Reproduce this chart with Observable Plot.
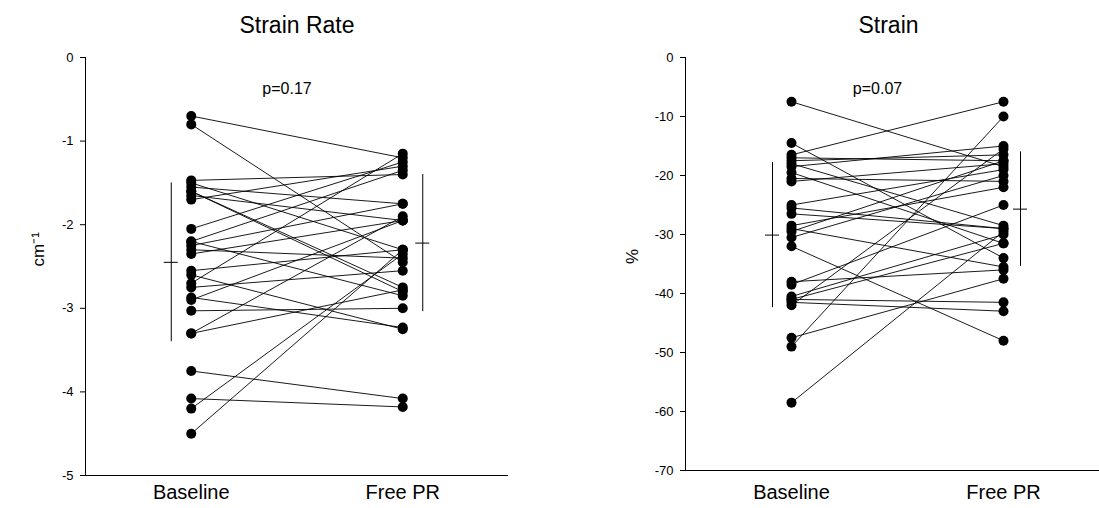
<!DOCTYPE html>
<html><head><meta charset="utf-8">
<script src="https://cdn.jsdelivr.net/npm/d3@7"></script>
<script src="https://cdn.jsdelivr.net/npm/@observablehq/plot@0.6"></script>
<style>
body{margin:0;background:#fff;}
#wrap{display:flex;width:1099px;height:508px;overflow:hidden;background:#fff;}
#wrap svg{flex-shrink:0;display:block;}
</style></head><body><div id="wrap"></div>
<script>
const groups = ["Baseline", "Free PR"];

// Strain Rate (cm^-1), paired per patient
const rateBaseline = [-0.70,-0.80,-1.47,-1.50,-1.55,-1.60,-1.65,-1.70,-2.05,-2.20,-2.25,-2.30,-2.35,-2.55,-2.60,-2.70,-2.75,-2.87,-2.90,-3.03,-3.30,-3.75,-4.08,-4.20,-4.50,-1.60,-2.20,-3.30];
const rateFree     = [-1.20,-2.45,-1.40,-2.30,-1.75,-2.80,-1.95,-1.30,-1.25,-1.35,-1.75,-2.40,-1.95,-2.30,-3.25,-1.15,-2.55,-3.23,-1.95,-3.00,-1.90,-4.08,-4.18,-2.35,-2.30,-2.75,-2.85,-2.78];
const rateMean = [-2.45, -2.22];
const rateSD   = [0.95, 0.82];
const rateTicks = [0, -1, -2, -3, -4, -5];

// Strain (%), paired per patient
const strainBaseline = [-7.5,-14.5,-16.5,-17,-17.5,-18,-18.5,-19.5,-20.5,-21,-25,-25.5,-26.5,-28.5,-29,-29.5,-30.5,-32,-38,-38.5,-40.5,-41,-41.5,-42,-47.5,-49,-58.5,-41];
const strainFree     = [-18.5,-34,-7.5,-17.5,-16.5,-28.5,-15,-31.5,-21,-18,-19,-29,-29,-22,-35.5,-17.5,-20,-48,-36,-25,-30,-41.5,-43,-15.5,-37.5,-10,-29.5,-31.5];
const strainMean = [-30.1, -25.7];
const strainSD   = [12.3, 9.7];
const strainTicks = [0, -10, -20, -30, -40, -50, -60, -70];

const FONT = "'Liberation Sans', Arial, Helvetica, sans-serif";

function panel(o) {
  const pairs = o.base.map((b, i) => ({id: i, b, f: o.free[i]}));
  const points = pairs.flatMap(p => [{id: p.id, g: 0, v: p.b}, {id: p.id, g: 1, v: p.f}]);
  const summ = groups.map((g, i) => ({g: i, m: o.mean[i], lo: o.mean[i] - o.sd[i], hi: o.mean[i] + o.sd[i]}));
  const xDomain = [-0.5, groups.length - 0.5];
  const yDomain = [d3.min(o.ticks), d3.max(o.ticks)];
  return Plot.plot({
    width: o.width, height: 508,
    marginTop: 57, marginLeft: o.marginLeft, marginRight: o.marginRight, marginBottom: o.marginBottom,
    style: {fontFamily: FONT, fontSize: "13px", background: "white", color: "black"},
    x: {domain: xDomain, axis: null},
    y: {domain: yDomain, ticks: o.ticks, tickSize: 5, tickPadding: 7, tickFormat: d => String(d), label: null},
    marks: [
      Plot.ruleX([xDomain[0]], {stroke: "black", strokeWidth: 1}),
      Plot.ruleY([yDomain[0]], {stroke: "black", strokeWidth: 1}),
      Plot.line(points, {x: "g", y: "v", z: "id", stroke: "black", strokeWidth: 0.9}),
      Plot.dot(points, {x: "g", y: "v", r: 5, fill: "black", stroke: "none"}),
      Plot.ruleX([summ[0]], {x: "g", y1: "lo", y2: "hi", dx: -o.sdOffset[0], stroke: "black", strokeWidth: 1}),
      Plot.ruleX([summ[1]], {x: "g", y1: "lo", y2: "hi", dx: o.sdOffset[1], stroke: "black", strokeWidth: 1}),
      Plot.ruleY([summ[0]], {x1: "g", x2: "g", y: "m", dx: -o.sdOffset[0], insetLeft: -7, insetRight: -7, stroke: "black", strokeWidth: 1}),
      Plot.ruleY([summ[1]], {x1: "g", x2: "g", y: "m", dx: o.sdOffset[1], insetLeft: -7, insetRight: -7, stroke: "black", strokeWidth: 1}),
      Plot.text([o.title], {frameAnchor: "top", lineAnchor: "middle", dy: -32, dx: o.titleDx, fontSize: 23, fill: "black"}),
      Plot.text([o.pText], {frameAnchor: "top", lineAnchor: "middle", dy: 31, dx: o.pDx, fontSize: 16, fill: "black"}),
      Plot.text([o.yLabel], {frameAnchor: "left", lineAnchor: "middle", rotate: -90, dx: o.yLabelDx, fontSize: 17, fill: "black"}),
      Plot.text(groups, {x: (d, i) => i, frameAnchor: "bottom", lineAnchor: "middle", dy: o.xLabelDy, fontSize: 20, fill: "black"})
    ]
  });
}

const wrap = document.getElementById("wrap");
wrap.appendChild(panel({
  title: "Strain Rate", pText: "p=0.17", yLabel: "cm⁻¹",
  base: rateBaseline, free: rateFree, mean: rateMean, sd: rateSD, ticks: rateTicks,
  width: 549, marginLeft: 85, marginRight: 41, marginBottom: 33,
  sdOffset: [20, 20], titleDx: 0, pDx: -10, yLabelDx: -47, xLabelDy: 17
}));
wrap.appendChild(panel({
  title: "Strain", pText: "p=0.07", yLabel: "%",
  base: strainBaseline, free: strainFree, mean: strainMean, sd: strainSD, ticks: strainTicks,
  width: 560, marginLeft: 136, marginRight: 0, marginBottom: 38,
  sdOffset: [19, 17], titleDx: -9, pDx: -20, yLabelDx: -53, xLabelDy: 22
}));
</script>
</body></html>
